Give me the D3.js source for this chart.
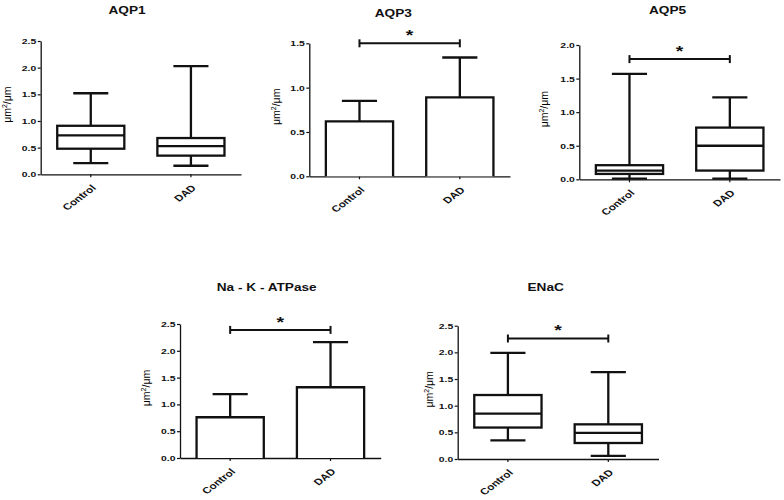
<!DOCTYPE html>
<html>
<head>
<meta charset="utf-8">
<script src="https://cdn.jsdelivr.net/npm/d3@7"></script>
<style>
  html, body { margin: 0; padding: 0; background: #fff; }
  svg { display: block; }
</style>
</head>
<body>
<svg id="chart" width="784" height="500"></svg>
<script>
// ---------------- DATA ----------------
const categories = ["Control", "DAD"];
const titles = ["AQP1", "AQP3", "AQP5", "Na - K - ATPase", "ENaC"];

// Box plots: [min, Q1, median, Q3, max]
const aqp1Control = [0.21, 0.48, 0.73, 0.91, 1.52];
const aqp1DAD     = [0.16, 0.35, 0.53, 0.68, 2.03];
const aqp5Control = [0.01, 0.08, 0.13, 0.21, 1.57];
const aqp5DAD     = [0.01, 0.13, 0.50, 0.77, 1.22];
const enacControl = [0.35, 0.59, 0.85, 1.20, 1.99];
const enacDAD     = [0.06, 0.30, 0.49, 0.65, 1.63];

// Bar charts: mean and error (upper SD)
const aqp3Mean = [0.62, 0.89];
const aqp3Err  = [0.23, 0.45];
const nakMean  = [0.76, 1.32];
const nakErr   = [0.43, 0.84];

// Y axis ticks
const ticks25 = [0, 0.5, 1.0, 1.5, 2.0, 2.5];
const ticks20 = [0, 0.5, 1.0, 1.5, 2.0];
const ticks15 = [0, 0.5, 1.0, 1.5];

// Significance bars (level on y scale), null = none
const sigLevels = [null, 1.5, 1.79, 2.39, 2.26];
const sigMarks  = ["", "*", "*", "*", "*"];

// ---------------- LAYOUT ----------------
const S = 1.3; // horizontal stretch of the original figure
const FONT = "'Liberation Sans', Arial, Helvetica, sans-serif";
const svg = d3.select("#chart");

const panels = [
  { title: titles[0], type: "box", data: [aqp1Control, aqp1DAD], ymax: 2.5, ticks: ticks25, sig: sigLevels[0], mark: sigMarks[0],
    left: 40.7, right: 241, top: 41, bottom: 174.3, titleX: 127, titleY: 14, labelX: 7 },
  { title: titles[1], type: "bar", mean: aqp3Mean, err: aqp3Err, ymax: 1.5, ticks: ticks15, sig: sigLevels[1], mark: sigMarks[1],
    left: 309.3, right: 510, top: 43.3, bottom: 176.3, titleX: 393.3, titleY: 16.5, labelX: 276 },
  { title: titles[2], type: "box", data: [aqp5Control, aqp5DAD], ymax: 2.0, ticks: ticks20, sig: sigLevels[2], mark: sigMarks[2],
    left: 579.3, right: 780, top: 45, bottom: 179.3, titleX: 667.5, titleY: 14, labelX: 544 },
  { title: titles[3], type: "bar", mean: nakMean, err: nakErr, ymax: 2.5, ticks: ticks25, sig: sigLevels[3], mark: sigMarks[3],
    left: 180, right: 380.7, top: 324, bottom: 458, titleX: 266.7, titleY: 290.5, labelX: 146 },
  { title: titles[4], type: "box", data: [enacControl, enacDAD], ymax: 2.5, ticks: ticks25, sig: sigLevels[4], mark: sigMarks[4],
    left: 457.7, right: 658.5, top: 325.7, bottom: 459, titleX: 545.7, titleY: 291, labelX: 429 }
];

const LW = 2.3; // mark stroke width

function drawPanel(p) {
  const g = svg.append("g");
  const y = d3.scaleLinear().domain([0, p.ymax]).range([p.bottom, p.top]);
  const x = d3.scaleBand().domain(categories).range([p.left, p.right]);
  const bw = x.bandwidth();
  const cx = c => x(c) + bw / 2;
  const boxW = bw * 0.67, capW = bw * 0.35;

  // Title
  g.append("g").attr("transform", `translate(${p.titleX},${p.titleY}) scale(${S},1)`)
    .append("text").attr("text-anchor", "middle")
    .attr("font-family", FONT).attr("font-weight", "bold").attr("font-size", 10.5)
    .attr("fill", "#111").text(p.title);

  // Y label
  const yl = g.append("text")
    .attr("transform", `translate(${p.labelX},${(p.top + p.bottom) / 2 - 3}) scale(1.05,1) rotate(-90)`)
    .attr("text-anchor", "middle").attr("dy", "0.35em")
    .attr("font-family", FONT).attr("font-size", 10.5).attr("fill", "#000")
    .style("opacity", 0.999);
  yl.append("tspan").text("μm");
  yl.append("tspan").attr("baseline-shift", "super").attr("font-size", 7).text("2");
  yl.append("tspan").text("/μm");

  // Y axis
  const ya = g.append("g").attr("transform", `translate(${p.left},0)`)
    .call(d3.axisLeft(y).tickValues(p.ticks).tickSize(3).tickSizeOuter(0).tickFormat(d3.format(".1f")));
  ya.select(".domain").attr("stroke-width", 1.3).attr("stroke", "#111");
  ya.selectAll(".tick line").attr("stroke-width", 1.2).attr("stroke", "#111");
  ya.selectAll(".tick text")
    .attr("x", -4.5 / S).attr("transform", `scale(${S},1)`)
    .attr("font-family", FONT).attr("font-weight", "bold").attr("font-size", 8).attr("fill", "#111");

  // X axis
  const xa = g.append("g").attr("transform", `translate(0,${p.bottom})`)
    .call(d3.axisBottom(x).tickSize(3).tickSizeOuter(0));
  xa.select(".domain").attr("stroke-width", 1.3).attr("stroke", "#111");
  xa.selectAll(".tick line").attr("stroke-width", 1.2).attr("stroke", "#111");
  xa.selectAll(".tick text").remove();
  categories.forEach(c => {
    g.append("g").attr("transform", `translate(${cx(c) + 3},${p.bottom + 12}) scale(${S},1) rotate(-45)`)
      .append("text").attr("text-anchor", "end").attr("dy", "0.35em")
      .attr("font-family", FONT).attr("font-weight", "bold").attr("font-size", 9).attr("fill", "#111")
      .text(c);
  });

  const marks = g.append("g").attr("stroke", "#111").attr("stroke-width", LW).attr("fill", "none");

  if (p.type === "box") {
    categories.forEach((c, i) => {
      const [mn, q1, md, q3, mx] = p.data[i];
      const xc = cx(c);
      marks.append("line").attr("x1", xc).attr("x2", xc).attr("y1", y(mn)).attr("y2", y(q1));
      marks.append("line").attr("x1", xc).attr("x2", xc).attr("y1", y(q3)).attr("y2", y(mx));
      marks.append("line").attr("x1", xc - capW / 2).attr("x2", xc + capW / 2).attr("y1", y(mn)).attr("y2", y(mn));
      marks.append("line").attr("x1", xc - capW / 2).attr("x2", xc + capW / 2).attr("y1", y(mx)).attr("y2", y(mx));
      marks.append("rect").attr("x", xc - boxW / 2).attr("width", boxW)
        .attr("y", y(q3)).attr("height", y(q1) - y(q3)).attr("fill", "#fff");
      marks.append("line").attr("x1", xc - boxW / 2).attr("x2", xc + boxW / 2).attr("y1", y(md)).attr("y2", y(md));
    });
  } else {
    categories.forEach((c, i) => {
      const m = p.mean[i], e = p.err[i];
      const xc = cx(c);
      marks.append("line").attr("x1", xc).attr("x2", xc).attr("y1", y(m)).attr("y2", y(m + e));
      marks.append("line").attr("x1", xc - capW / 2).attr("x2", xc + capW / 2).attr("y1", y(m + e)).attr("y2", y(m + e));
      marks.append("path")
        .attr("d", `M${xc - boxW / 2},${y(0)}V${y(m)}H${xc + boxW / 2}V${y(0)}`)
        .attr("fill", "#fff");
    });
  }

  if (p.sig !== null) {
    const ys = y(p.sig);
    const xa1 = cx(categories[0]), xa2 = cx(categories[1]);
    const sg = g.append("g").attr("stroke", "#111").attr("stroke-width", 2);
    sg.append("line").attr("x1", xa1).attr("x2", xa2).attr("y1", ys).attr("y2", ys);
    sg.append("line").attr("x1", xa1).attr("x2", xa1).attr("y1", ys - 4).attr("y2", ys + 4);
    sg.append("line").attr("x1", xa2).attr("x2", xa2).attr("y1", ys - 4).attr("y2", ys + 4);
    g.append("g").attr("transform", `translate(${(xa1 + xa2) / 2},${ys - 3}) scale(${S},1)`)
      .append("text").attr("text-anchor", "middle")
      .attr("font-family", FONT).attr("font-weight", "bold").attr("font-size", 15).attr("fill", "#111")
      .text(p.mark);
  }
}

panels.forEach(drawPanel);
</script>
</body>
</html>
